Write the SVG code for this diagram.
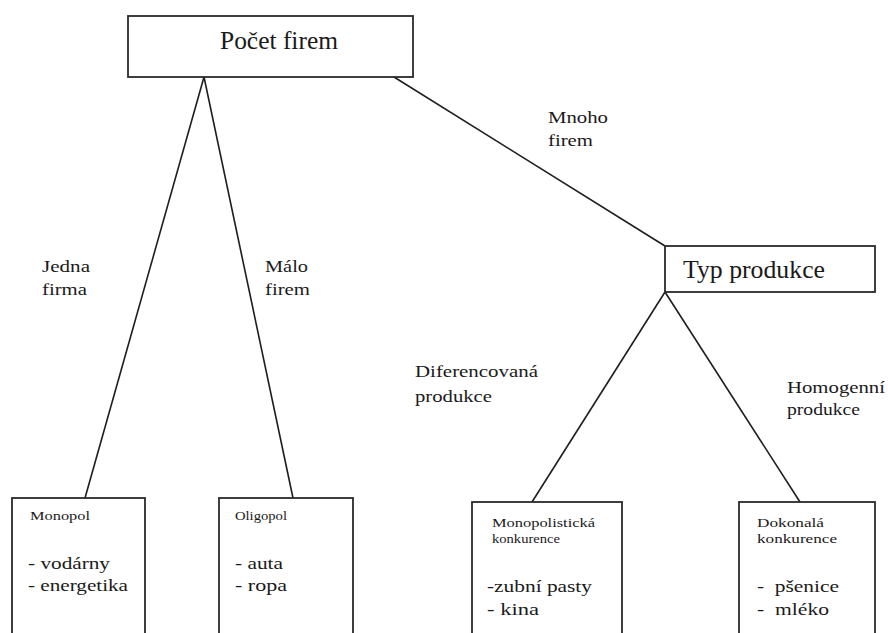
<svg xmlns="http://www.w3.org/2000/svg" width="888" height="633" viewBox="0 0 888 633">
<style>
.box{fill:#fff;stroke:#2a2a2a;stroke-width:1.8}
.edge{stroke:#1e1e1e;stroke-width:1.6;fill:none}
text{font-family:"Liberation Serif","DejaVu Serif","Times New Roman",serif;fill:#1a1a1a}
.big{font-size:25px}
.lbl{font-size:17px}
.sm{font-size:13px}
.it{font-size:17px}
</style>
<rect width="888" height="633" fill="#fff"/>
<g id="connectors">
<line class="edge" x1="204" y1="77" x2="85" y2="498"/>
<line class="edge" x1="204" y1="77" x2="293" y2="498"/>
<line class="edge" x1="394" y1="77" x2="665" y2="246"/>
<line class="edge" x1="665" y1="292" x2="532" y2="502"/>
<line class="edge" x1="665" y1="292" x2="800" y2="502"/>
</g>
<g id="edge-labels">
<text class="lbl" x="42" y="272" textLength="48" lengthAdjust="spacingAndGlyphs">Jedna</text>
<text class="lbl" x="42" y="295" textLength="45" lengthAdjust="spacingAndGlyphs">firma</text>
<text class="lbl" x="265" y="272" textLength="43" lengthAdjust="spacingAndGlyphs">Málo</text>
<text class="lbl" x="265" y="295" textLength="45" lengthAdjust="spacingAndGlyphs">firem</text>
<text class="lbl" x="548" y="123" textLength="60" lengthAdjust="spacingAndGlyphs">Mnoho</text>
<text class="lbl" x="548" y="146" textLength="45" lengthAdjust="spacingAndGlyphs">firem</text>
<text class="lbl" x="415" y="377" textLength="123" lengthAdjust="spacingAndGlyphs">Diferencovaná</text>
<text class="lbl" x="415" y="402" textLength="77" lengthAdjust="spacingAndGlyphs">produkce</text>
<text class="lbl" x="787" y="393" textLength="98" lengthAdjust="spacingAndGlyphs">Homogenní</text>
<text class="lbl" x="787" y="415" textLength="73" lengthAdjust="spacingAndGlyphs">produkce</text>
</g>
<g id="node-pocet-firem">
<rect class="box" x="128" y="16" width="285" height="61"/>
<text class="big" x="220" y="49" textLength="118" lengthAdjust="spacingAndGlyphs">Počet firem</text>
</g>
<g id="node-typ-produkce">
<rect class="box" x="665" y="246" width="210" height="46"/>
<text class="big" x="683" y="278" textLength="142" lengthAdjust="spacingAndGlyphs">Typ produkce</text>
</g>
<g id="node-monopol">
<rect class="box" x="12" y="498" width="133" height="140"/>
<text class="sm" x="30" y="520" textLength="60" lengthAdjust="spacingAndGlyphs">Monopol</text>
<text class="it" x="28" y="569" textLength="82" lengthAdjust="spacingAndGlyphs">- vodárny</text>
<text class="it" x="28" y="591" textLength="100" lengthAdjust="spacingAndGlyphs">- energetika</text>
</g>
<g id="node-oligopol">
<rect class="box" x="219" y="498" width="134" height="140"/>
<text class="sm" x="235" y="520" textLength="52" lengthAdjust="spacingAndGlyphs">Oligopol</text>
<text class="it" x="235" y="569" textLength="48" lengthAdjust="spacingAndGlyphs">- auta</text>
<text class="it" x="235" y="591" textLength="52" lengthAdjust="spacingAndGlyphs">- ropa</text>
</g>
<g id="node-monopolisticka">
<rect class="box" x="472" y="502" width="150" height="136"/>
<text class="sm" x="492" y="527" textLength="103" lengthAdjust="spacingAndGlyphs">Monopolistická</text>
<text class="sm" x="492" y="543" textLength="68" lengthAdjust="spacingAndGlyphs">konkurence</text>
<text class="it" x="487" y="592" textLength="105" lengthAdjust="spacingAndGlyphs">-zubní pasty</text>
<text class="it" x="487" y="615" textLength="52" lengthAdjust="spacingAndGlyphs">- kina</text>
</g>
<g id="node-dokonala">
<rect class="box" x="739" y="502" width="136" height="136"/>
<text class="sm" x="757" y="527" textLength="67" lengthAdjust="spacingAndGlyphs">Dokonalá</text>
<text class="sm" x="757" y="543" textLength="80" lengthAdjust="spacingAndGlyphs">konkurence</text>
<text class="it" x="757" y="592" textLength="82" lengthAdjust="spacingAndGlyphs" xml:space="preserve">-  pšenice</text>
<text class="it" x="757" y="615" textLength="72" lengthAdjust="spacingAndGlyphs" xml:space="preserve">-  mléko</text>
</g>
</svg>
